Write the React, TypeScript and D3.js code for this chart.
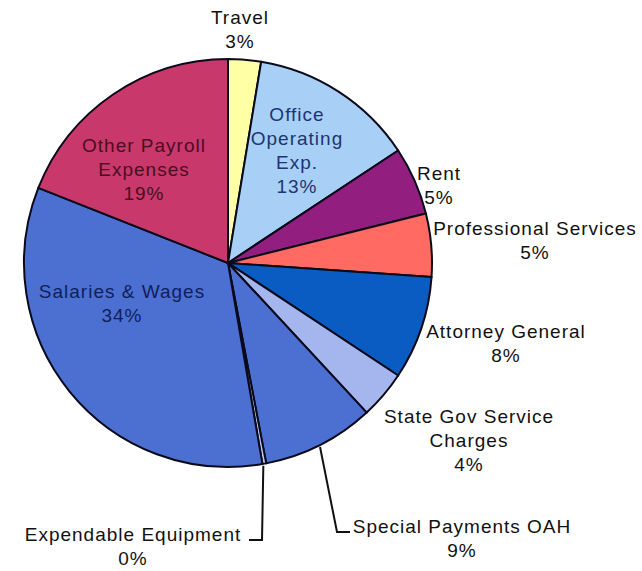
import React from "react";
import * as d3 from "d3";

const categories = [
  "Travel",
  "Office Operating Exp.",
  "Rent",
  "Professional Services",
  "Attorney General",
  "State Gov Service Charges",
  "Special Payments OAH",
  "Expendable Equipment",
  "Salaries & Wages",
  "Other Payroll Expenses",
];
const values = [2.6, 13.1, 5.4, 5.0, 8.2, 3.8, 8.9, 0.3, 33.7, 19.0];
const colors = [
  "#FFFFA6",
  "#A8CFF5",
  "#921F80",
  "#FF6B62",
  "#0A5BC2",
  "#A5B6EF",
  "#4B70D2",
  "#B8C8EE",
  "#4B70D2",
  "#C8386A",
];
const labelLines = [
  ["Travel"],
  ["Office", "Operating", "Exp."],
  ["Rent"],
  ["Professional Services"],
  ["Attorney General"],
  ["State Gov Service", "Charges"],
  ["Special Payments OAH"],
  ["Expendable Equipment"],
  ["Salaries & Wages"],
  ["Other Payroll", "Expenses"],
];
const textColors = [
  "#111", "#1d3570", "#111", "#111", "#111", "#111", "#111", "#111", "#10205a", "#4a0f22",
];

// label layout: first baseline position (x centre, y)
const labelPos: [number, number][] = [
  [240, 24],
  [297, 121],
  [439, 180],
  [535, 235],
  [506, 338],
  [469, 423],
  [462, 533],
  [133, 541],
  [122, 298],
  [144, 152],
];
const leaderIdx: Record<number, "left" | "right"> = { 6: "right", 7: "left" };

export default function App() {
  const W = 642, H = 571;
  const cx = 228, cy = 263, R = 204;
  const pie = d3.pie<number>().sort(null).value((d) => d)(values);
  const arc = d3.arc<d3.PieArcDatum<number>>().innerRadius(0).outerRadius(R);
  const lh = 24;
  return (
    <svg width={W} height={H} style={{ position: "absolute", left: 0, top: 0, background: "#fff" }}>
      <g transform={`translate(${cx},${cy})`}>
        {pie.map((p, i) => (
          <path key={i} d={arc(p) || ""} fill={colors[i]} stroke="#0a0a1a" strokeWidth={2} strokeLinejoin="round" />
        ))}
      </g>
      {pie.map((p, i) => {
        if (!(i in leaderIdx)) return null;
        const a = (p.startAngle + p.endAngle) / 2;
        const x0 = cx + R * Math.sin(a);
        const y0 = cy - R * Math.cos(a);
        const [lx, ly] = labelPos[i];
        let pts: string;
        if (leaderIdx[i] === "right") {
          pts = `${x0},${y0 + 2} ${337},${ly - 1} ${350},${ly - 1}`;
        } else {
          pts = `${x0 - 1},${y0 + 2} ${262},${ly - 1} ${249},${ly - 1}`;
        }
        return <polyline key={"l" + i} points={pts} fill="none" stroke="#111" strokeWidth={2} />;
      })}
      {categories.map((c, i) => {
        const [x, y] = labelPos[i];
        const lines = [...labelLines[i], `${Math.round(values[i])}%`];
        return (
          <text
            key={"t" + i}
            x={x}
            y={y}
            textAnchor="middle"
            fontFamily="'Liberation Sans', Arial, sans-serif"
            fontSize={19}
            letterSpacing={1}
            fill={textColors[i]}
          >
            {lines.map((l, j) => (
              <tspan key={j} x={x} dy={j === 0 ? 0 : lh}>
                {l}
              </tspan>
            ))}
          </text>
        );
      })}
    </svg>
  );
}
